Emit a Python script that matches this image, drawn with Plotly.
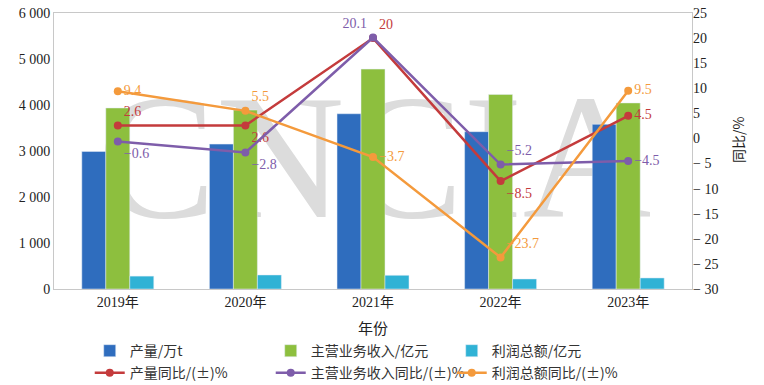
import plotly.graph_objects as go

years = ["2019年", "2020年", "2021年", "2022年", "2023年"]
output = [2990, 3150, 3810, 3420, 3580]          # 产量/万t
revenue = [3935, 3890, 4780, 4230, 4045]         # 主营业务收入/亿元
profit = [280, 305, 298, 218, 240]               # 利润总额/亿元
output_yoy = [2.6, 2.6, 20, -8.5, 4.5]
revenue_yoy = [-0.6, -2.8, 20.1, -5.2, -4.5]
profit_yoy = [9.4, 5.5, -3.7, -23.7, 9.5]

left_ticks = [0, 1000, 2000, 3000, 4000, 5000, 6000]
left_ticktext = ["0", "1 000", "2 000", "3 000", "4 000", "5 000", "6 000"]
right_ticks = [25, 20, 15, 10, 5, 0, -5, -10, -15, -20, -25, -30]

def fmt(v):
    s = ("%g" % abs(v))
    return ("\u2212" + s) if v < 0 else s

right_ticktext = [fmt(v).replace("\u2212", "\u2212 ") for v in right_ticks]

SERIF = "Liberation Serif, Times New Roman, Noto Sans CJK SC, serif"
CJK = "Noto Sans CJK SC, sans-serif"

c_blue = "#2F6DBE"
c_green = "#8DBF3E"
c_cyan = "#30B2D5"
c_red = "#C43B3C"
c_purple = "#7E5DAA"
c_orange = "#F49A3C"

fig = go.Figure()
fig.add_bar(x=years, y=output, name="产量/万t", marker_color=c_blue, legend="legend")
fig.add_bar(x=years, y=revenue, name="主营业务收入/亿元", marker_color=c_green, legend="legend")
fig.add_bar(x=years, y=profit, name="利润总额/亿元", marker_color=c_cyan, legend="legend")

def line(vals, name, color, positions):
    fig.add_scatter(
        x=years, y=vals, name=name, yaxis="y2", mode="lines+markers+text",
        line=dict(color=color, width=2.5), marker=dict(color=color, size=8),
        text=[fmt(v) for v in vals], textposition=positions,
        textfont=dict(family=SERIF, size=14, color=color), legend="legend2",
    )

line(output_yoy, "产量同比/(±)%", c_red,
     ["top right", "bottom right", "top right", "bottom right", "middle right"])
line(revenue_yoy, "主营业务收入同比/(±)%", c_purple,
     ["bottom right", "bottom right", "top left", "top right", "middle right"])
line(profit_yoy, "利润总额同比/(±)%", c_orange,
     ["middle right", "top right", "middle right", "top right", "middle right"])

legend_common = dict(orientation="h", xanchor="left", yanchor="top",
                     entrywidth=136, entrywidthmode="pixels",
                     font=dict(family=CJK, size=14, color="#333"),
                     itemwidth=30, bgcolor="rgba(0,0,0,0)")

fig.update_layout(
    width=764, height=385,
    margin=dict(l=54, r=72, t=13, b=96, autoexpand=False),
    paper_bgcolor="white", plot_bgcolor="white",
    barmode="group", bargap=0.436, bargroupgap=0,
    showlegend=True,
    legend=dict(x=0.056, y=-0.167, **legend_common),
    legend2=dict(x=0.056, y=-0.247, **legend_common),
    xaxis=dict(range=[-0.5, 4.5], showline=True, linecolor="#c8c8c8", mirror=True,
               ticks="", automargin=False,
               tickfont=dict(family=SERIF, size=14, color="#222")),
    yaxis=dict(range=[0, 6000], tickvals=left_ticks, ticktext=left_ticktext, automargin=False,
               showgrid=False, zeroline=False, showline=True, linecolor="#c8c8c8",
               mirror=True, ticks="", tickfont=dict(family=SERIF, size=14, color="#222")),
    yaxis2=dict(range=[-30, 25], overlaying="y", side="right", automargin=False,
                tickvals=right_ticks, ticktext=right_ticktext,
                showgrid=False, zeroline=False, showline=False, ticks="",
                tickfont=dict(family=SERIF, size=14, color="#222")),
    annotations=[
        dict(text="年份", x=0.5, y=-0.14, xref="paper", yref="paper", showarrow=False,
             font=dict(family=CJK, size=15, color="#222"), xanchor="center", yanchor="middle"),
        dict(text="同比/%", x=(750 - 54) / 638, y=(289 - 140) / 276, xref="paper", yref="paper",
             showarrow=False, textangle=-90, font=dict(family=CJK, size=14, color="#222")),
    ],
    shapes=[dict(type="rect", xref="x", yref="y", x0=-0.48, x1=4.5, y0=1480, y1=5080,
                 line=dict(width=0), fillcolor="rgba(0,0,0,0)", layer="between",
                 label=dict(text="CNCIA", textposition="middle center",
                            font=dict(family=SERIF, size=178, color="#dcdcdc")))],
)

fig.write_html("out.html", config={"displayModeBar": False})

# remove the browser's default page margin so the figure sits at the window origin
with open("out.html", "r", encoding="utf-8") as f:
    html = f.read()
html = html.replace("<head>", "<head><style>html,body{margin:0;padding:0;overflow:hidden;}</style>", 1)
with open("out.html", "w", encoding="utf-8") as f:
    f.write(html)
